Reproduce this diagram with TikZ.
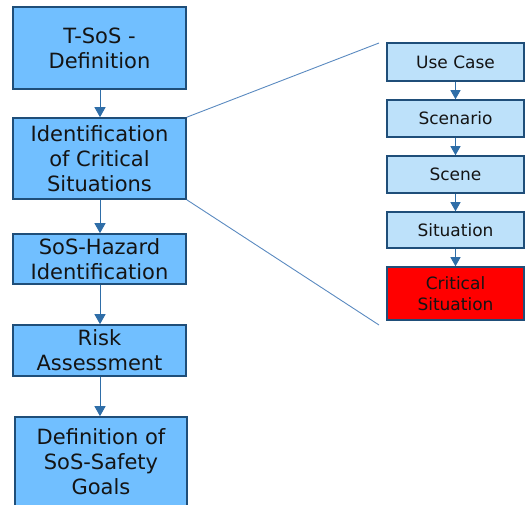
\documentclass[tikz,border=0pt]{standalone}
\usepackage{fontspec}
\setmainfont{DejaVu Sans}
\usetikzlibrary{arrows.meta}
\definecolor{leftfill}{HTML}{71BFFF}
\definecolor{rightfill}{HTML}{BDE1FA}
\definecolor{boxborder}{HTML}{1F4E79}
\definecolor{arrowblue}{HTML}{2F6EA8}
\definecolor{linkblue}{HTML}{5A8AC0}
\definecolor{textcol}{HTML}{141414}
\tikzset{
  bigbox/.style={draw=boxborder, line width=1.6pt, fill=leftfill, minimum width=173pt,
    align=center, inner sep=0pt, text=textcol, font=\fontsize{21}{25}\selectfont},
  smallbox/.style={draw=boxborder, line width=1.5pt, fill=rightfill, minimum width=137pt,
    align=center, inner sep=0pt, text=textcol, font=\fontsize{17}{20.5}\selectfont},
  critbox/.style={smallbox, fill=red},
  bigarrow/.style={draw=arrowblue, line width=1pt, -{Triangle[length=10pt,width=11pt]}},
  smallarrow/.style={draw=arrowblue, line width=1pt, -{Triangle[length=9pt,width=10pt]}},
  link/.style={draw=linkblue, line width=0.9pt}
}
\begin{document}
\begin{tikzpicture}[x=1pt,y=-1pt]
\useasboundingbox (0,0) rectangle (525,505);
% left column
\node[bigbox, minimum height=82pt] (tsos) at (99.5,48) {T-SoS -\\Definition};
\node[bigbox, minimum height=81pt] (ident) at (99.5,158.5) {Identification\\of Critical\\Situations};
\node[bigbox, minimum height=50pt] (haz) at (99.5,259) {SoS-Hazard\\Identification};
\node[bigbox, minimum height=51pt] (risk) at (99.5,350.5) {Risk\\Assessment};
\node[bigbox, minimum height=90pt, minimum width=172pt] (goals) at (101,462) {Definition of\\SoS-Safety\\Goals};
\draw[bigarrow] (tsos.south -| 100,0) -- (ident.north -| 100,0);
\draw[bigarrow] (ident.south -| 100,0) -- (haz.north -| 100,0);
\draw[bigarrow] (haz.south -| 100,0) -- (risk.north -| 100,0);
\draw[bigarrow] (risk.south -| 100,0) -- (goals.north -| 100,0);
% right column
\node[smallbox, minimum height=38pt] (uc) at (455.5,62) {Use Case};
\node[smallbox, minimum height=37pt] (scen) at (455.5,118.5) {Scenario};
\node[smallbox, minimum height=37pt] (scene) at (455.5,174.5) {Scene};
\node[smallbox, minimum height=36pt] (sit) at (455.5,230) {Situation};
\node[critbox, minimum height=53pt] (crit) at (455.5,293.5) {Critical\\Situation};
\draw[smallarrow] (uc) -- (scen);
\draw[smallarrow] (scen) -- (scene);
\draw[smallarrow] (scene) -- (sit);
\draw[smallarrow] (sit) -- (crit);
% zoom links
\coordinate (ztop) at (379,43);
\coordinate (zbot) at (379,325);
\draw[link] (ident.north east) -- (ztop);
\draw[link] (ident.south east) -- (zbot);
\end{tikzpicture}
\end{document}
